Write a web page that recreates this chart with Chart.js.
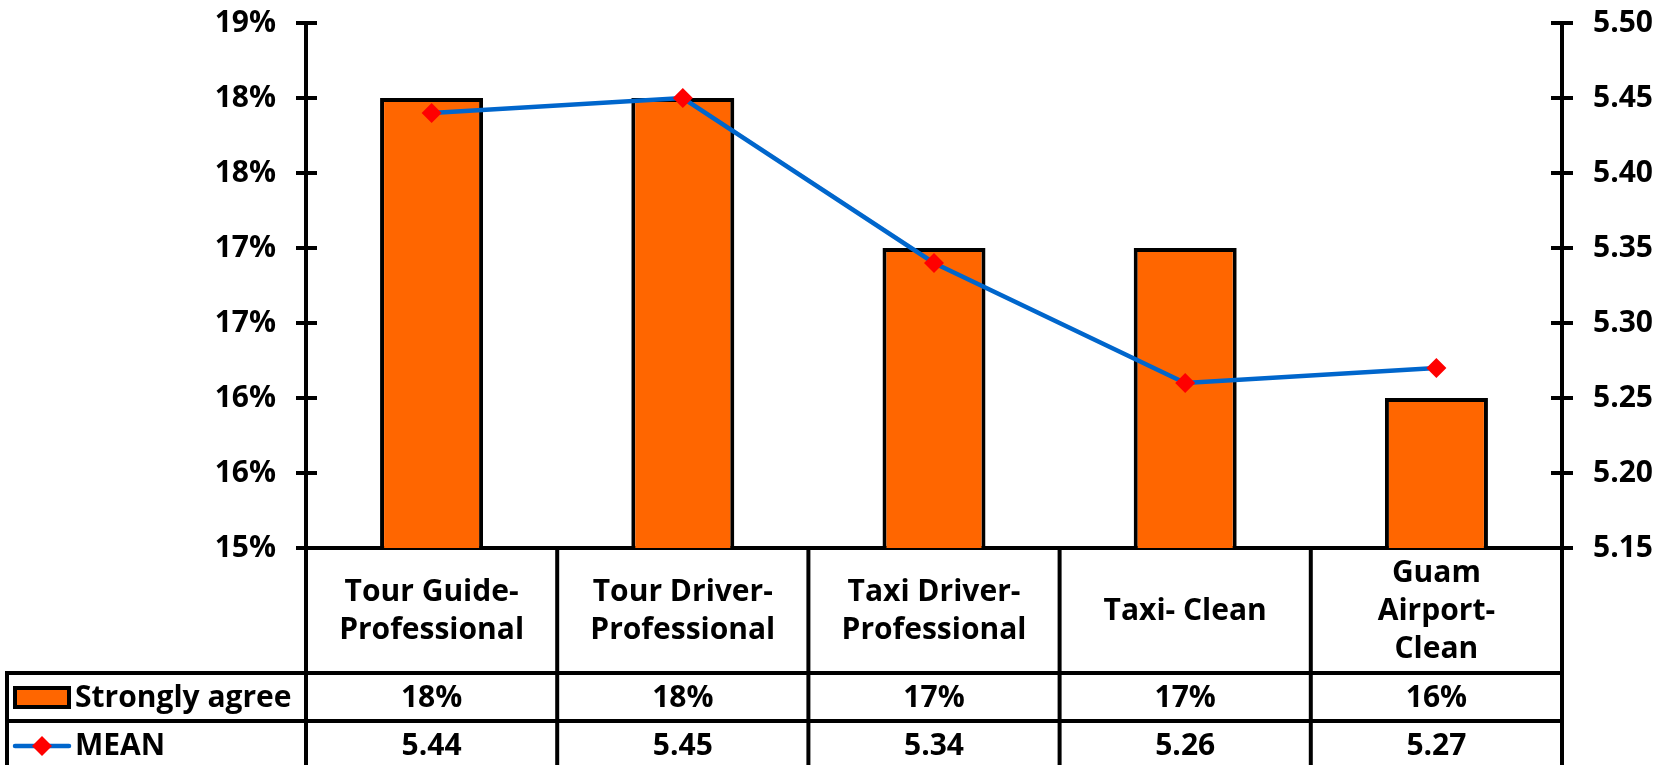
<!DOCTYPE html>
<html>
<head>
<meta charset="utf-8">
<script src="https://cdn.jsdelivr.net/npm/chart.js@4.4.0/dist/chart.umd.min.js"></script>
<style>
  html, body { margin:0; padding:0; background:#fff; }
  #wrap { position:relative; width:1668px; height:765px; }
</style>
</head>
<body>
<div id="wrap"><canvas id="chart"></canvas></div>
<script>
/* ── data ── */
const CATEGORIES = [
  ['Tour Guide-', 'Professional'],
  ['Tour Driver-', 'Professional'],
  ['Taxi Driver-', 'Professional'],
  ['Taxi- Clean'],
  ['Guam', 'Airport-', 'Clean']
];
const STRONGLY_AGREE = [0.18, 0.18, 0.17, 0.17, 0.16];
const MEAN = [5.44, 5.45, 5.34, 5.26, 5.27];
const SERIES_NAMES = ['Strongly agree', 'MEAN'];

const FONT_FAMILY = '"Open Sans", "DejaVu Sans", sans-serif';
const FONT = 'bold 30px ' + FONT_FAMILY;
const ORANGE = '#FF6600', BLUE = '#0066CC', RED = '#FF0000';

const pct = v => Math.round(Math.round(v * 1000) / 10) + '%';

/* ── data table + cross ticks drawn under the plot ── */
const tablePlugin = {
  id: 'dataTable',
  afterDraw(chart) {
    const { ctx, chartArea: a, scales: { x, y, y1 } } = chart;
    const n = CATEGORIES.length;
    const colW = (a.right - a.left) / n;
    const catBottom = a.bottom + 125, row1 = catBottom + 48, row2 = row1 + 48;
    const tableLeft = 7;
    const line = (x1, y1_, x2, y2) => { ctx.beginPath(); ctx.moveTo(x1, y1_); ctx.lineTo(x2, y2); ctx.stroke(); };

    ctx.save();
    ctx.strokeStyle = '#000';
    ctx.lineWidth = 4;
    ctx.lineCap = 'butt';

    // inner halves of the cross tick marks
    y.ticks.forEach((t, i) => { const py = y.getPixelForTick(i); line(a.left, py, a.left + 11, py); });
    y1.ticks.forEach((t, i) => { const py = y1.getPixelForTick(i); line(a.right - 11, py, a.right, py); });

    // grid of the table
    for (let i = 0; i <= n; i++) {
      const px = a.left + i * colW;
      line(px, a.bottom, px, row2 + 4);
    }
    line(tableLeft, catBottom, a.right + 2, catBottom);
    line(tableLeft, row1, a.right + 2, row1);
    line(tableLeft, row2, a.right + 2, row2);
    line(tableLeft, catBottom - 2, tableLeft, row2 + 4);

    // text
    ctx.font = FONT;
    ctx.fillStyle = '#000';
    ctx.textAlign = 'center';
    ctx.textBaseline = 'middle';
    const catMid = (a.bottom + catBottom) / 2 + 1;
    const r1Mid = (catBottom + row1) / 2 + 1;
    const r2Mid = (row1 + row2) / 2 + 1;
    CATEGORIES.forEach((lines, i) => {
      const cx = x.getPixelForValue(i);
      lines.forEach((s, j) => ctx.fillText(s, cx, catMid + (j - (lines.length - 1) / 2) * 38));
      ctx.fillText(pct(STRONGLY_AGREE[i]), cx, r1Mid);
      ctx.fillText(MEAN[i].toFixed(2), cx, r2Mid);
    });

    // legend keys
    ctx.fillStyle = ORANGE;
    ctx.fillRect(15, r1Mid - 10, 54, 19);
    ctx.strokeRect(15, r1Mid - 10, 54, 19);
    ctx.strokeStyle = BLUE;
    ctx.lineWidth = 4.5;
    ctx.lineCap = 'round';
    line(15, r2Mid, 69, r2Mid);
    ctx.fillStyle = RED;
    ctx.beginPath();
    ctx.moveTo(42, r2Mid - 10); ctx.lineTo(52, r2Mid); ctx.lineTo(42, r2Mid + 10); ctx.lineTo(32, r2Mid);
    ctx.closePath(); ctx.fill();

    ctx.fillStyle = '#000';
    ctx.textAlign = 'left';
    ctx.fillText(SERIES_NAMES[0], 75, r1Mid);
    ctx.fillText(SERIES_NAMES[1], 75, r2Mid);
    ctx.restore();
  }
};

const axisTicks = { color:'#000', font:{ family:FONT_FAMILY, size:30, weight:'bold' } };

new Chart(document.getElementById('chart').getContext('2d'), {
  type: 'bar',
  data: {
    labels: CATEGORIES,
    datasets: [
      { type:'line', label:SERIES_NAMES[1], data:MEAN, yAxisID:'y1', order:0,
        borderColor:BLUE, borderWidth:4.5, tension:0, fill:false,
        pointStyle:'rectRot', pointRadius:10, pointBackgroundColor:RED, pointBorderColor:RED, pointBorderWidth:0 },
      { type:'bar', label:SERIES_NAMES[0], data:STRONGLY_AGREE, yAxisID:'y', order:1,
        backgroundColor:ORANGE, borderColor:'#000', borderWidth:4, borderSkipped:false,
        categoryPercentage:1, barPercentage:0.41 }
    ]
  },
  options: {
    responsive:true, maintainAspectRatio:false, animation:false,
    layout:{ padding:{ top:23, left:0, right:0, bottom:0 } },
    plugins:{ legend:{ display:false }, tooltip:{ enabled:false } },
    scales:{
      x:{
        ticks:{ display:false },
        grid:{ display:false },
        border:{ display:true, color:'#000', width:4 },
        afterFit: s => { s.height = 217; }
      },
      y:{
        position:'left', min:0.15, max:0.185,
        ticks:{ ...axisTicks, stepSize:0.005, padding:20, callback: v => pct(v) },
        grid:{ display:true, drawOnChartArea:false, drawTicks:true, tickLength:10, color:'#000', lineWidth:4 },
        border:{ display:true, color:'#000', width:4 },
        afterFit: s => { s.width = 306; s.paddingTop = 0; s.paddingBottom = 0; }
      },
      y1:{
        position:'right', min:5.15, max:5.5,
        ticks:{ ...axisTicks, stepSize:0.05, padding:20, callback: v => v.toFixed(2) },
        grid:{ display:true, drawOnChartArea:false, drawTicks:true, tickLength:11, color:'#000', lineWidth:4 },
        border:{ display:true, color:'#000', width:4 },
        afterFit: s => { s.width = 106; s.paddingTop = 0; s.paddingBottom = 0; }
      }
    }
  },
  plugins:[tablePlugin]
});
</script>
</body>
</html>
